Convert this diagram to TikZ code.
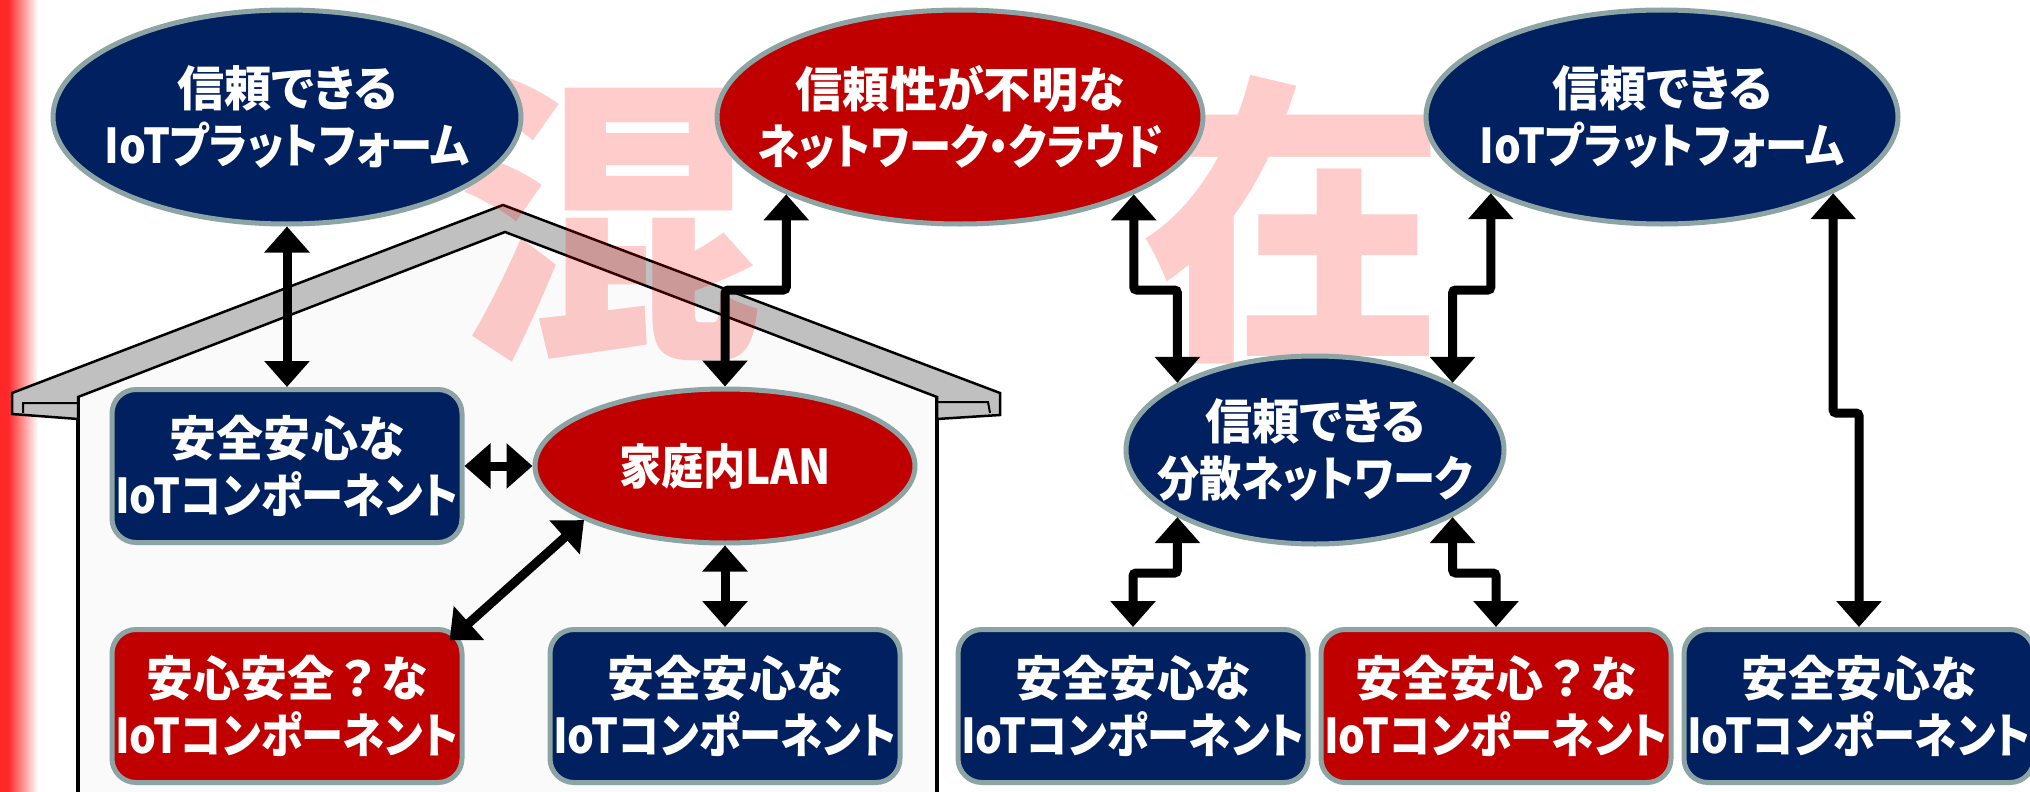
\documentclass[tikz,border=0pt]{standalone}
\usepackage{fontspec}
% condensed face for katakana lines, wider face for kanji/kana lines
\newfontfamily\jp{Noto Sans CJK JP}[RawFeature=+palt, FakeStretch=0.88]
\newfontfamily\jpw{Noto Sans CJK JP}[RawFeature=+palt, FakeStretch=0.98]
\newfontfamily\jpq{Noto Sans CJK JP}[FakeStretch=0.98]
\newfontfamily\jpbig{Noto Sans CJK JP}
\usetikzlibrary{shapes.geometric,arrows.meta}
\definecolor{navy}{RGB}{0,32,96}
\definecolor{darkred}{RGB}{192,0,0}
\definecolor{rim}{RGB}{140,164,164}
\definecolor{roofgrey}{RGB}{192,192,192}
\definecolor{wallfill}{RGB}{250,250,250}
\definecolor{stripred}{RGB}{255,40,40}

\begin{document}
\setlength{\lineskiplimit}{-100pt}
\begin{tikzpicture}[x=1pt,y=-1pt,
  txt/.style={text=white, font=\jp\bfseries\fontsize{48}{57}\selectfont,
    align=center, inner sep=0pt},
  oval/.style={ellipse, draw=rim, line width=5pt, inner sep=0pt},
  card/.style={rectangle, rounded corners=24pt, draw=rim, line width=5pt, inner sep=0pt,
    minimum width=350pt, minimum height=153pt, txt},
  biarrow/.style={line width=9pt, draw=black,
    {Triangle[length=26pt,width=44pt]}-{Triangle[length=26pt,width=44pt]}},
  elbow/.style={biarrow, rounded corners=3pt},
  bigchar/.style={font=\jpbig\bfseries\fontsize{304}{304}\selectfont, text=red,
    text opacity=0.2, inner sep=0pt}
]
% canvas
\fill[white] (0,0) rectangle (2030,792);
\useasboundingbox (0,0) rectangle (2030,792);

% red edge on the left
\fill[stripred] (0,0) rectangle (8,792);
\shade[left color=stripred, right color=white] (8,0) rectangle (38,792);

% house: walls and roof
\fill[wallfill] (78,397) -- (505,232) -- (937,397) -- (937,800) -- (78,800) -- cycle;
\draw[line width=3.5pt] (78,397) -- (78,800) (937,397) -- (937,800);
\filldraw[fill=roofgrey, draw=black, line width=2.5pt, line join=miter]
  (12,393) -- (503,205) -- (1000,393) -- (1000,415) -- (937,419) -- (937,397)
  -- (505,232) -- (78,397) -- (78,419) -- (12,414) -- cycle;
\draw[line width=2pt] (23,413) -- (23,403) -- (78,403) (937,402) -- (988,402) -- (990,413);

% large background characters
\node[bigchar] (hun) at (610,220) {混};
\node[bigchar] (zai) at (1293,220) {在};

% ovals
\node[oval, fill=navy, minimum width=468pt, minimum height=214pt,
  label={[txt]center:{\jpw 信頼できる}\\IoTプラットフォーム}] (plat1) at (287,117) {};
\node[oval, fill=darkred, minimum width=486pt, minimum height=214pt,
  label={[txt]center:{\jpw 信頼性が不明な}\\ネットワーク・クラウド}] (cloud) at (960,117) {};
\node[oval, fill=navy, minimum width=472pt, minimum height=214pt,
  label={[txt]center:{\jpw 信頼できる}\\IoTプラットフォーム}] (plat2) at (1662,117) {};
\node[oval, fill=darkred, minimum width=380pt, minimum height=154pt,
  label={[txt]center:家庭内LAN}] (lan) at (725,466) {};
\node[oval, fill=navy, minimum width=378pt, minimum height=188pt,
  label={[txt]center:{\jpw 信頼できる}\\分散ネットワーク}] (dist) at (1315,450) {};

% component cards
\node[card, fill=navy] (comp1) at (287,466) {{\jpw 安全安心な}\\IoTコンポーネント};
\node[card, fill=darkred] (comp2) at (287,706) {{\jpw 安心安全{\jpq ？}な}\\IoTコンポーネント};
\node[card, fill=navy] (comp3) at (725,706) {{\jpw 安全安心な}\\IoTコンポーネント};
\node[card, fill=navy] (comp4) at (1133,706) {{\jpw 安全安心な}\\IoTコンポーネント};
\node[card, fill=darkred] (comp5) at (1496,706) {{\jpw 安全安心{\jpq ？}な}\\IoTコンポーネント};
\node[card, fill=navy] (comp6) at (1859,706) {{\jpw 安全安心な}\\IoTコンポーネント};

% levels of the horizontal runs
\coordinate (k1) at (0,290);
\coordinate (k3) at (0,413);
\coordinate (k4) at (0,573);

% connectors
\draw[biarrow] (plat1.south) -- (comp1.north);
\draw[biarrow] (comp1.east) -- (lan.west);
\draw[biarrow, shorten >=-20pt] (lan.201) -- (comp2.north east);
\draw[biarrow] (lan.south) -- (comp3.north);
\draw[elbow] (cloud.204) -- (cloud.204 |- k1) -- (lan.north |- k1) -- (lan.north);
\draw[elbow] (cloud.336) -- (cloud.336 |- k1) -- (dist.154 |- k1) -- (dist.154);
\draw[elbow] (plat2.204) -- (plat2.204 |- k1) -- (dist.26 |- k1) -- (dist.26);
\draw[elbow] (plat2.336) -- (plat2.336 |- k3) -- (comp6.north |- k3) -- (comp6.north);
\draw[elbow] (dist.206) -- (dist.206 |- k4) -- (comp4.north |- k4) -- (comp4.north);
\draw[elbow] (dist.334) -- (dist.334 |- k4) -- (comp5.north |- k4) -- (comp5.north);
\end{tikzpicture}
\end{document}
